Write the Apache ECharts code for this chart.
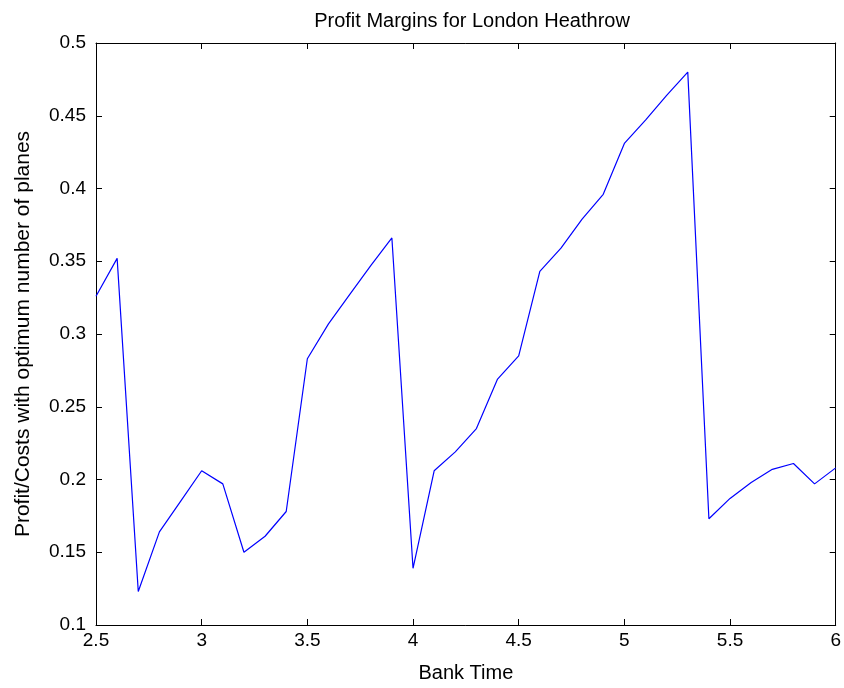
<!DOCTYPE html>
<html>
<head>
<meta charset="utf-8">
<script src="https://cdn.jsdelivr.net/npm/echarts@6/dist/echarts.min.js"></script>
<style>
html,body{margin:0;padding:0;background:#fff;}
#chart{width:844px;height:688px;}
</style>
</head>
<body>
<div id="chart"></div>
<script>
var bankTime = [2.5,2.6,2.7,2.8,2.9,3.0,3.1,3.2,3.3,3.4,3.5,3.6,3.7,3.8,3.9,4.0,4.1,4.2,4.3,4.4,4.5,4.6,4.7,4.8,4.9,5.0,5.1,5.2,5.3,5.4,5.5,5.6,5.7,5.8,5.9,6.0];
var profitCosts = [0.326,0.352,0.123,0.164,0.185,0.206,0.197,0.150,0.161,0.178,0.283,0.307,0.327,0.347,0.366,0.139,0.206,0.219,0.235,0.269,0.285,0.343,0.359,0.379,0.396,0.431,0.447,0.464,0.480,0.173,0.187,0.198,0.207,0.211,0.197,0.208];
var xTicks = {min:2.5, max:6, interval:0.5};
var yTicks = {min:0.1, max:0.5, interval:0.05};

var points = bankTime.map(function(x,i){return [x, profitCosts[i]];});
var font = 'Liberation Sans, Arial, sans-serif';
var chart = echarts.init(document.getElementById('chart'));
function fmt(v){ return String(parseFloat(v.toFixed(2))); }
var axLine = {show:true, lineStyle:{color:'#000', width:1}};
chart.setOption({
  animation:false,
  backgroundColor:'#fff',
  title:{text:'Profit Margins for London Heathrow', left:467, top:6, textAlign:'center',
    textStyle:{fontFamily:font, fontSize:20, fontWeight:'normal', color:'#000'}},
  grid:{left:96, right:2, top:43, bottom:59},
  xAxis:[{
    type:'value', min:xTicks.min, max:xTicks.max, interval:xTicks.interval,
    name:'Bank Time', nameLocation:'middle', nameGap:38,
    nameTextStyle:{fontFamily:font, fontSize:20, color:'#000'},
    axisLine:axLine, axisTick:{show:true, inside:true, length:6, lineStyle:{color:'#000'}},
    axisLabel:{fontFamily:font, fontSize:19, color:'#000', margin:6, formatter:fmt},
    splitLine:{show:false}
  },{
    type:'value', position:'top', min:xTicks.min, max:xTicks.max, interval:xTicks.interval,
    axisLine:axLine, axisTick:{show:true, inside:true, length:6, lineStyle:{color:'#000'}},
    axisLabel:{show:false}, splitLine:{show:false}
  }],
  yAxis:[{
    type:'value', min:yTicks.min, max:yTicks.max, interval:yTicks.interval,
    name:'Profit/Costs with optimum number of planes', nameLocation:'middle', nameGap:62,
    nameTextStyle:{fontFamily:font, fontSize:21, color:'#000'},
    axisLine:axLine, axisTick:{show:true, inside:true, length:6, lineStyle:{color:'#000'}},
    axisLabel:{fontFamily:font, fontSize:19, color:'#000', margin:10, formatter:fmt},
    splitLine:{show:false}
  },{
    type:'value', position:'right', min:yTicks.min, max:yTicks.max, interval:yTicks.interval,
    axisLine:axLine, axisTick:{show:true, inside:true, length:6, lineStyle:{color:'#000'}},
    axisLabel:{show:false}, splitLine:{show:false}
  }],
  series:[{
    type:'line', data:points, xAxisIndex:0, yAxisIndex:0,
    showSymbol:false, lineStyle:{color:'#0000ff', width:1.2}
  }]
});
</script>
</body>
</html>
